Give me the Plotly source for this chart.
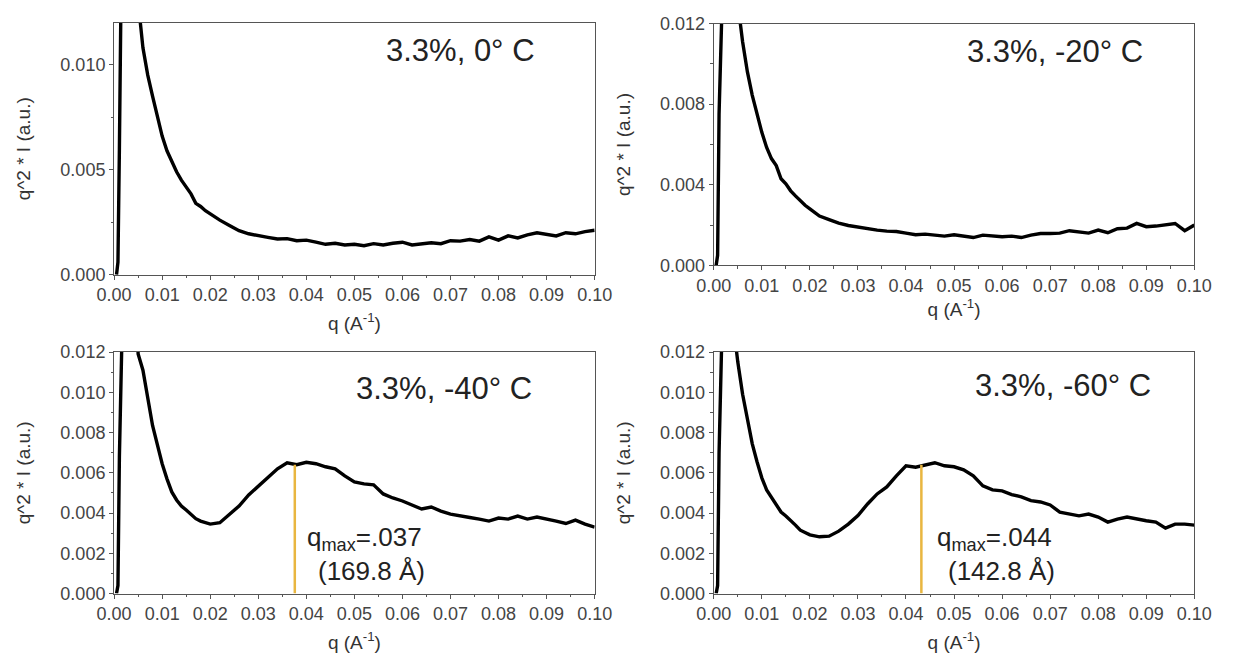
import plotly.graph_objects as go

# ---- data (q in A^-1, q^2*I in a.u.) ----
Q = [0.0005, 0.0008, 0.0011, 0.0014, 0.002, 0.003, 0.004,
     0.005, 0.006, 0.007, 0.008, 0.009, 0.010, 0.011, 0.012, 0.013, 0.014,
     0.015, 0.016, 0.017, 0.018, 0.019, 0.020,
     0.022, 0.024, 0.026, 0.028, 0.030, 0.032, 0.034, 0.036, 0.038, 0.040,
     0.042, 0.044, 0.046, 0.048, 0.050, 0.052, 0.054, 0.056, 0.058, 0.060,
     0.062, 0.064, 0.066, 0.068, 0.070, 0.072, 0.074, 0.076, 0.078, 0.080,
     0.082, 0.084, 0.086, 0.088, 0.090, 0.092, 0.094, 0.096, 0.098, 0.100]

I_0C = [0.0, 0.0006, 0.0060, 0.0125, 0.020, 0.026, 0.020,
        0.0130, 0.0108, 0.0095, 0.0085, 0.0075, 0.0066, 0.0059, 0.00535, 0.0049, 0.0045,
        0.0042, 0.00385, 0.0034, 0.00325, 0.00305, 0.0029,
        0.0026, 0.00235, 0.0021, 0.00195, 0.00185, 0.00178, 0.0017, 0.00172, 0.00162, 0.00165,
        0.00155, 0.00145, 0.0015, 0.00142, 0.00145, 0.00138, 0.00148, 0.00142, 0.0015, 0.00155,
        0.00142, 0.00145, 0.00152, 0.00148, 0.00162, 0.0016, 0.00168, 0.0016, 0.0018, 0.00165,
        0.00185, 0.00175, 0.0019, 0.0020, 0.00192, 0.00185, 0.0020, 0.00195, 0.00205, 0.00212]

I_M20C = [0.0, 0.0005, 0.0075, 0.0135, 0.020, 0.024, 0.019,
          0.0130, 0.0111, 0.0096, 0.00845, 0.00745, 0.0066, 0.00585, 0.0053, 0.00495, 0.0043,
          0.00405, 0.0037, 0.00345, 0.0032, 0.00298, 0.0028,
          0.00245, 0.00227, 0.0021, 0.00198, 0.0019, 0.0018, 0.00175, 0.0017, 0.00168, 0.0016,
          0.00152, 0.00155, 0.00148, 0.00145, 0.00152, 0.00145, 0.00138, 0.0015, 0.00145, 0.00142,
          0.00145, 0.00138, 0.0015, 0.00158, 0.00158, 0.0016, 0.00172, 0.00168, 0.0016, 0.00175,
          0.00162, 0.00182, 0.00185, 0.00208, 0.00192, 0.00195, 0.0020, 0.00208, 0.00172, 0.0020]

I_M40C = [0.0, 0.0004, 0.0068, 0.0125, 0.022, 0.028, 0.018,
          0.0119, 0.0111, 0.00975, 0.00835, 0.0074, 0.00645, 0.0057, 0.00505, 0.00465, 0.00435,
          0.00415, 0.00395, 0.00372, 0.0036, 0.00352, 0.00345,
          0.00352, 0.00395, 0.00435, 0.0049, 0.00535, 0.0058, 0.0062, 0.0065, 0.0064, 0.00652,
          0.00645, 0.0063, 0.0062, 0.00585, 0.00555, 0.00545, 0.0054, 0.00495, 0.00475, 0.0046,
          0.0044, 0.0042, 0.0043, 0.0041, 0.00395, 0.00385, 0.00378, 0.0037, 0.0036, 0.00375,
          0.0037, 0.00385, 0.0037, 0.0038, 0.00372, 0.0036, 0.00348, 0.00365, 0.00345, 0.0033]

I_M60C = [0.0, 0.0004, 0.0070, 0.0130, 0.022, 0.026, 0.0135,
          0.0115, 0.0099, 0.0086, 0.00745, 0.00655, 0.00575, 0.00515, 0.00478, 0.00435, 0.00405,
          0.00385, 0.00365, 0.0034, 0.00315, 0.00305, 0.00292,
          0.00282, 0.00285, 0.0031, 0.00345, 0.00388, 0.00445, 0.00495, 0.0053, 0.00585, 0.00635,
          0.00628, 0.0064, 0.0065, 0.00635, 0.0063, 0.00615, 0.00585, 0.00535, 0.00515, 0.0051,
          0.00492, 0.0048, 0.00462, 0.00455, 0.0044, 0.00405, 0.00395, 0.00386, 0.00395, 0.0038,
          0.00355, 0.0037, 0.0038, 0.0037, 0.00362, 0.00355, 0.00325, 0.00345, 0.00345, 0.0034]

SERIES = [I_0C, I_M20C, I_M40C, I_M60C]
LABELS = ["3.3%, 0° C", "3.3%, -20° C", "3.3%, -40° C", "3.3%, -60° C"]

QMAX_POS = [0.0376, 0.0432]      # q of the peak markers (bottom panels)
QMAX_TOP = [0.0064, 0.0064]      # height of the peak markers
QMAX_TEXT = ["q<sub>max</sub>=.037", "q<sub>max</sub>=.044"]
QMAX_D = ["(169.8 Å)", "(142.8 Å)"]

X_TICKS = [0.00, 0.01, 0.02, 0.03, 0.04, 0.05, 0.06, 0.07, 0.08, 0.09, 0.10]
Y_DTICK = [0.005, 0.004, 0.002, 0.002]
Y_MINOR = [0.0025, 0.002, 0.001, 0.001]

# ---- layout geometry (paper fractions) ----
W, H = 1233, 663
XDOM = [[99 / W, 594 / W], [716.7 / W, 1211.7 / W], [99 / W, 594 / W], [716.7 / W, 1211.7 / W]]
YDOM = [[1 - 273 / H, 1 - 13 / H], [1 - 263.3 / H, 1 - 14 / H],
        [1 - 601.7 / H, 1 - 352.7 / H], [1 - 601.7 / H, 1 - 352.7 / H]]
LABEL_POS = [(0.0721, 0.01066), (0.0710, 0.0106), (0.0686, 0.0102), (0.0726, 0.01036)]
QTXT_POS = [[(0.0521, 0.00273), (0.0535, 0.00114)], [(0.0585, 0.00273), (0.0599, 0.00114)]]
XT_STANDOFF = [12, 6, 12, 12]

FONT = "Liberation Sans, Arial, sans-serif"
fig = go.Figure()

for i, (series, label) in enumerate(zip(SERIES, LABELS)):
    xa = "x" if i == 0 else f"x{i + 1}"
    ya = "y" if i == 0 else f"y{i + 1}"
    fig.add_trace(go.Scatter(x=Q, y=series, mode="lines", xaxis=xa, yaxis=ya,
                             line=dict(color="black", width=3.4), showlegend=False,
                             hoverinfo="x+y"))
    fig.add_annotation(x=LABEL_POS[i][0], y=LABEL_POS[i][1], xref=xa, yref=ya,
                       text=label, showarrow=False,
                       font=dict(family=FONT, size=31, color="#222"))

for j in range(2):
    i = j + 2
    xa, ya = f"x{i + 1}", f"y{i + 1}"
    fig.add_trace(go.Scatter(x=[QMAX_POS[j], QMAX_POS[j]], y=[0, QMAX_TOP[j]],
                             mode="lines", xaxis=xa, yaxis=ya,
                             line=dict(color="#E9B640", width=2.5), showlegend=False))
    fig.add_annotation(x=QTXT_POS[j][0][0], y=QTXT_POS[j][0][1], xref=xa, yref=ya,
                       text=QMAX_TEXT[j], showarrow=False,
                       font=dict(family=FONT, size=26, color="#222"))
    fig.add_annotation(x=QTXT_POS[j][1][0], y=QTXT_POS[j][1][1], xref=xa, yref=ya,
                       text=QMAX_D[j], showarrow=False,
                       font=dict(family=FONT, size=26, color="#222"))

axis_common = dict(showline=True, linecolor="#555", linewidth=1.2, mirror=True,
                   ticks="outside", ticklen=4, tickcolor="#555", tickwidth=1,
                   showgrid=False, zeroline=False,
                   tickfont=dict(family=FONT, size=18, color="#444"))

layout = dict(width=W, height=H, margin=dict(l=0, r=0, t=0, b=0),
              paper_bgcolor="white", plot_bgcolor="white", showlegend=False)
for i in range(4):
    xk = "xaxis" if i == 0 else f"xaxis{i + 1}"
    yk = "yaxis" if i == 0 else f"yaxis{i + 1}"
    xa = "x" if i == 0 else f"x{i + 1}"
    ya = "y" if i == 0 else f"y{i + 1}"
    layout[xk] = dict(axis_common, domain=XDOM[i], anchor=ya, range=[0, 0.1],
                      tickvals=X_TICKS, tickformat=".2f",
                      minor=dict(dtick=0.005, ticks="outside", ticklen=2.5, tickcolor="#555"),
                      title=dict(text="q (A<sup>-1</sup>)", standoff=XT_STANDOFF[i],
                                 font=dict(family=FONT, size=19, color="#333")))
    layout[yk] = dict(axis_common, domain=YDOM[i], anchor=xa, range=[0, 0.012],
                      dtick=Y_DTICK[i], tick0=0, tickformat=".3f",
                      minor=dict(dtick=Y_MINOR[i], ticks="outside", ticklen=2.5, tickcolor="#555"),
                      title=dict(text="q^2 * I (a.u.)", standoff=24,
                                 font=dict(family=FONT, size=19, color="#333")))
fig.update_layout(**layout)
fig.write_html("out.html")
